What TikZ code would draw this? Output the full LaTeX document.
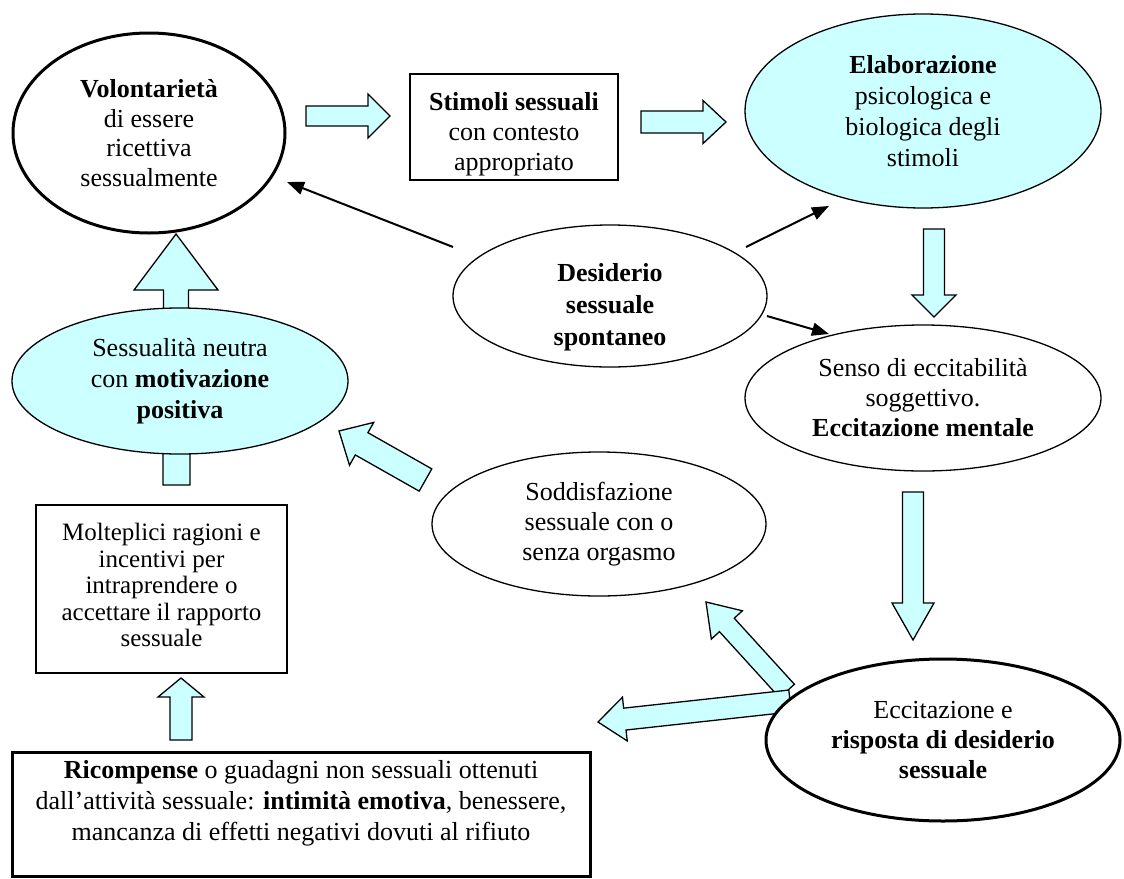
\documentclass[tikz,border=0pt]{standalone}
\usepackage{fontspec}
\setmainfont{Liberation Serif}
\usetikzlibrary{shapes.geometric,calc,arrows.meta}
\definecolor{lcyan}{RGB}{204,255,255}
\newcommand{\blkarrow}[5]{%
  \path ($(#2)!#5!(#1)$) coordinate (bh);
  \draw[barr] ($(#1)!#3!90:(#2)$) -- ($(bh)!#3!-90:(#1)$) -- ($(bh)!#4!-90:(#1)$) -- (#2) -- ($(bh)!#4!90:(#1)$) -- ($(bh)!#3!90:(#1)$) -- ($(#1)!#3!-90:(#2)$) -- cycle;}
\begin{document}
\begin{tikzpicture}[x=1pt,y=-1pt,
  txt/.style={align=center,font=\fontsize{26}{30}\selectfont},
  ell/.style={ellipse,draw,line width=1.3pt,inner sep=0pt,fill=white,txt},
  thickell/.style={ell,line width=3pt},
  cyanell/.style={ell,fill=lcyan},
  boxn/.style={rectangle,draw,line width=1.3pt,fill=white,inner sep=0pt},
  barr/.style={draw,fill=lcyan,line width=1.3pt,line join=miter},
  thin/.style={line width=2pt,-{Triangle[length=17pt,width=13pt]}}]
\fill[white] (0,0) rectangle (1124,878);
\useasboundingbox (0,0) rectangle (1124,878);

% block arrows (drawn first, behind shapes)
\coordinate (a1s) at (306,116); \coordinate (a1e) at (390,116);
\blkarrow{a1s}{a1e}{10pt}{22pt}{22pt}
\coordinate (a2s) at (641,122); \coordinate (a2e) at (726,122);
\blkarrow{a2s}{a2e}{11pt}{21.5pt}{23pt}
\coordinate (a3s) at (934,229); \coordinate (a3e) at (934,317);
\blkarrow{a3s}{a3e}{10.5pt}{22pt}{22pt}
\coordinate (a4s) at (913,492); \coordinate (a4e) at (913,640);
\blkarrow{a4s}{a4e}{10.5pt}{21pt}{37pt}
\coordinate (a5s) at (787,691); \coordinate (a5e) at (706,602);
\blkarrow{a5s}{a5e}{10pt}{21pt}{31pt}
\coordinate (a6s) at (425.5,480); \coordinate (a6e) at (339,431);
\blkarrow{a6s}{a6e}{12.8pt}{24.6pt}{26pt}
\coordinate (a7s) at (176,330); \coordinate (a7e) at (176,234);
\blkarrow{a7s}{a7e}{12.5pt}{42pt}{56pt}
\coordinate (a8s) at (176.5,485); \coordinate (a8e) at (176.5,420);
\blkarrow{a8s}{a8e}{13.5pt}{24pt}{20pt}
\coordinate (a9s) at (181,740); \coordinate (a9e) at (181,678);
\blkarrow{a9s}{a9e}{11pt}{23pt}{19pt}
\coordinate (a10s) at (790,701); \coordinate (a10e) at (598,722);
\blkarrow{a10s}{a10e}{11pt}{22pt}{27pt}

% shapes
\node[thickell,minimum width=272pt,minimum height=200pt,font=\fontsize{26}{29.5}\selectfont] (vol) at (149,133)
  {\textbf{Volontarietà}\\di essere\\ricettiva\\sessualmente};
\node[boxn,minimum width=208pt,minimum height=106pt] (sti) at (514,127) {};
\node[txt] (stit) at (514,134) {\textbf{Stimoli sessuali}\\con contesto\\appropriato};
\node[cyanell,minimum width=356pt,minimum height=194pt,font=\fontsize{26}{31}\selectfont] (ela) at (923,111)
  {\textbf{Elaborazione}\\psicologica e\\biologica degli\\stimoli};
\node[ell,minimum width=314pt,minimum height=142pt] (des) at (610,296) {};
\node[txt,font=\fontsize{26}{32}\selectfont\bfseries] (dest) at (610,307) {Desiderio\\sessuale\\spontaneo};
\node[ell,minimum width=356pt,minimum height=146pt] (sen) at (923,398)
  {Senso di eccitabilità\\soggettivo.\\\textbf{Eccitazione mentale}};
\node[cyanell,minimum width=336pt,minimum height=146pt,font=\fontsize{26}{31}\selectfont] (ses) at (180,381)
  {Sessualità neutra\\con \textbf{motivazione}\\\textbf{positiva}};
\node[ell,minimum width=334pt,minimum height=144pt] (sod) at (599,524)
  {Soddisfazione\\sessuale con o\\senza orgasmo};
\node[thickell,minimum width=354pt,minimum height=162pt] (ecc) at (943,740)
  {Eccitazione e\\\textbf{risposta di desiderio}\\\textbf{sessuale}};
\node[boxn,minimum width=251pt,minimum height=168pt] (mol) at (161.5,589) {};
\node[txt,font=\fontsize{25}{26.5}\selectfont] (molt) at (161.5,585)
  {Molteplici ragioni e\\incentivi per\\intraprendere o\\accettare il rapporto\\sessuale};
\node[boxn,line width=3pt,minimum width=578pt,minimum height=124pt] (ric) at (301,814) {};
\node[txt,font=\fontsize{26}{31}\selectfont] (rict) at (301,803)
  {\textbf{Ricompense} o guadagni non sessuali ottenuti\\dall’attività sessuale: \textbf{intimità emotiva}, benessere,\\mancanza di effetti negativi dovuti al rifiuto};

% thin arrows from Desiderio
\coordinate (dv1) at (453,247); \coordinate (dv2) at (287,182);
\draw[thin] (dv1) -- (dv2);
\coordinate (de1) at (746,247); \coordinate (de2) at (829,206);
\draw[thin] (de1) -- (de2);
\coordinate (ds1) at (767,316); \coordinate (ds2) at (829,334);
\draw[thin] (ds1) -- (ds2);
\end{tikzpicture}
\end{document}
